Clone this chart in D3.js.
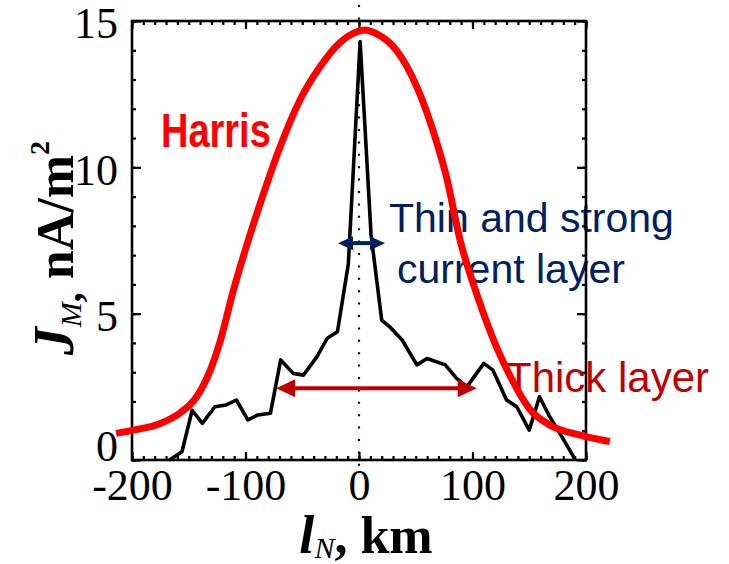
<!DOCTYPE html>
<html><head><meta charset="utf-8">
<script src="https://cdn.jsdelivr.net/npm/d3@7"></script>
<style>
html,body{margin:0;padding:0;background:#fff;}
svg{display:block;}
</style></head>
<body>
<svg id="chart" width="729" height="564"></svg>
<script>
// ---- data ----
const xTicksMajor = [-200, -100, 0, 100, 200];
const yTicksMajor = [0, 5, 10, 15];
const xTickLabels = ["-200", "-100", "0", "100", "200"];
const yTickLabels = ["0", "5", "10", "15"];

// observed current density (black)
const obsX = [-167, -156, -147, -138, -127, -117, -108, -98, -89, -78, -69, -58, -49, -37, -28, -19, -9.4, 1, 10.6, 20, 27, 38, 51, 60, 76, 86, 95, 110, 118, 130, 139, 150, 159, 168, 177, 190];
const obsY = [0, 0.28, 1.7, 1.25, 1.82, 1.88, 2.05, 1.37, 1.54, 1.6, 3.42, 2.96, 2.9, 3.53, 4.16, 4.38, 6.7, 14.3, 7.7, 4.78, 4.55, 4.1, 3.25, 3.47, 3.25, 2.79, 2.5, 3.3, 3.07, 2.05, 1.82, 1.02, 2.16, 1.48, 0.91, 0.05];

// Harris profile (red)
const harrisX = [-214, -199, -175, -158, -143, -131, -122, -111, -98, -85, -70, -52, -34, -17, -2, 5, 16, 33, 51, 66, 77, 89, 104, 121, 135, 151, 168, 195, 221];
const harrisY = [0.91, 1.02, 1.25, 1.6, 2.16, 3.07, 4.1, 5.75, 7.45, 9.0, 10.65, 12.3, 13.45, 14.25, 14.63, 14.69, 14.55, 14.0, 12.75, 11.16, 9.68, 7.52, 5.64, 3.87, 2.73, 1.71, 1.2, 0.85, 0.63];

// annotation arrows (data units)
const thinArrow = {x0: -18.5, x1: 22.9, y: 7.41};
const thickArrow = {x0: -73, x1: 103.7, y: 2.45};

// ---- layout ----
const L = 132, R = 586, T = 21, B = 460;
const svg = d3.select("#chart");
const x = d3.scaleLinear().domain([-200, 200]).range([L, R]);
const y = d3.scaleLinear().domain([0, 15]).range([B, T]);

const serif = "'Liberation Serif','Times New Roman',serif";
const sans = "'Liberation Sans',Arial,sans-serif";

// annotations text (under frame and curves)
svg.append("text").attr("transform", "translate(161,146.5) scale(1,1.28)")
  .attr("font-family", sans).attr("font-weight", "bold").attr("font-size", 38)
  .attr("fill", "#ff0000").text("Harris");
svg.append("text").attr("x", 389).attr("y", 232)
  .attr("font-family", sans).attr("font-size", 41).attr("fill", "#002060").text("Thin and strong");
svg.append("text").attr("x", 397).attr("y", 283)
  .attr("font-family", sans).attr("font-size", 41).attr("fill", "#002060").text("current layer");
svg.append("text").attr("x", 506).attr("y", 392)
  .attr("font-family", sans).attr("font-size", 42).attr("fill", "#c00000").text("Thick layer");

// dotted zero line
svg.append("line").attr("x1", x(0)).attr("x2", x(0)).attr("y1", 5).attr("y2", 468)
  .attr("stroke", "#000").attr("stroke-width", 2.2).attr("stroke-dasharray", "2,10.4");

// frame axes
function styleAxis(g) { g.select(".domain").remove(); g.selectAll("line").attr("stroke", "#000").attr("stroke-width", 2.2); }
const xMinor = d3.range(-200, 201, 10);
const yMinor = d3.range(0, 16, 1);

svg.append("g").attr("transform", `translate(0,${B})`)
  .call(d3.axisBottom(x).tickValues(xMinor).tickSize(-4).tickFormat("")).call(styleAxis);
svg.append("g").attr("transform", `translate(0,${B})`)
  .call(d3.axisBottom(x).tickValues(xTicksMajor).tickSize(-8).tickPadding(9).tickFormat((d, i) => xTickLabels[i]))
  .call(styleAxis)
  .call(g => g.selectAll("text").attr("font-family", serif).attr("font-size", 44).attr("fill", "#000"));
svg.append("g").attr("transform", `translate(0,${T})`)
  .call(d3.axisTop(x).tickValues(xMinor).tickSize(-4).tickFormat("")).call(styleAxis);
svg.append("g").attr("transform", `translate(0,${T})`)
  .call(d3.axisTop(x).tickValues(xTicksMajor).tickSize(-8).tickFormat("")).call(styleAxis);

svg.append("g").attr("transform", `translate(${L},0)`)
  .call(d3.axisLeft(y).tickValues(yMinor).tickSize(-4).tickFormat("")).call(styleAxis);
svg.append("g").attr("transform", `translate(${L},0)`)
  .call(d3.axisLeft(y).tickValues(yTicksMajor).tickSize(-9).tickPadding(14).tickFormat((d, i) => yTickLabels[i]))
  .call(styleAxis)
  .call(g => g.selectAll("text").attr("font-family", serif).attr("font-size", 44).attr("fill", "#000")
     .attr("dy", d => d === 0 ? "0.0em" : "0.38em"));
svg.append("g").attr("transform", `translate(${R},0)`)
  .call(d3.axisRight(y).tickValues(yMinor).tickSize(-4).tickFormat("")).call(styleAxis);
svg.append("g").attr("transform", `translate(${R},0)`)
  .call(d3.axisRight(y).tickValues(yTicksMajor).tickSize(-9).tickFormat("")).call(styleAxis);

svg.append("rect").attr("x", L).attr("y", T).attr("width", R - L).attr("height", B - T)
  .attr("fill", "none").attr("stroke", "#000").attr("stroke-width", 2.6);

// observed line
const obs = obsX.map((v, i) => [v, obsY[i]]);
svg.append("path").datum(obs)
  .attr("d", d3.line().x(d => x(d[0])).y(d => y(d[1])))
  .attr("fill", "none").attr("stroke", "#000").attr("stroke-width", 3.6).attr("stroke-linejoin", "round");

// Harris curve
const har = harrisX.map((v, i) => [v, harrisY[i]]);
svg.append("path").datum(har)
  .attr("d", d3.line().x(d => x(d[0])).y(d => y(d[1])).curve(d3.curveMonotoneX))
  .attr("fill", "none").attr("stroke", "#ff0000").attr("stroke-width", 7).attr("stroke-linecap", "butt");

// double arrows
function dblArrow(a, color, headL, headW, shaft) {
  const xa = x(a.x0), xb = x(a.x1), yy = y(a.y);
  svg.append("line").attr("x1", xa + headL - 1).attr("x2", xb - headL + 1).attr("y1", yy).attr("y2", yy)
    .attr("stroke", color).attr("stroke-width", shaft);
  svg.append("path").attr("d", `M${xa},${yy}L${xa + headL},${yy - headW}L${xa + headL},${yy + headW}Z`).attr("fill", color);
  svg.append("path").attr("d", `M${xb},${yy}L${xb - headL},${yy - headW}L${xb - headL},${yy + headW}Z`).attr("fill", color);
}
dblArrow(thinArrow, "#002060", 15, 7, 4);
dblArrow(thickArrow, "#c00000", 19, 9, 4);

// axis titles
const yl = svg.append("text").attr("transform", "translate(73,248) rotate(-90)")
  .attr("text-anchor", "middle").attr("font-family", serif).attr("font-weight", "bold").attr("font-size", 52).attr("fill", "#000");
yl.append("tspan").attr("font-style", "italic").attr("font-size", 56).text("J");
yl.append("tspan").attr("font-style", "italic").attr("font-weight", "normal").attr("font-size", 30).attr("dy", 8).text("M");
yl.append("tspan").attr("font-size", 40).text(",");
yl.append("tspan").attr("dy", -8).text(" nA/m");
yl.append("tspan").attr("font-size", 28).attr("dy", -24).text("2");

const xl = svg.append("text").attr("x", 366).attr("y", 553)
  .attr("text-anchor", "middle").attr("font-family", serif).attr("font-weight", "bold").attr("font-size", 52).attr("fill", "#000");
xl.append("tspan").attr("font-style", "italic").attr("font-size", 54).text("l");
xl.append("tspan").attr("font-style", "italic").attr("font-weight", "normal").attr("font-size", 30).attr("dy", 5).text("N");
xl.append("tspan").attr("dy", -5).text(", km");
</script>
</body></html>
